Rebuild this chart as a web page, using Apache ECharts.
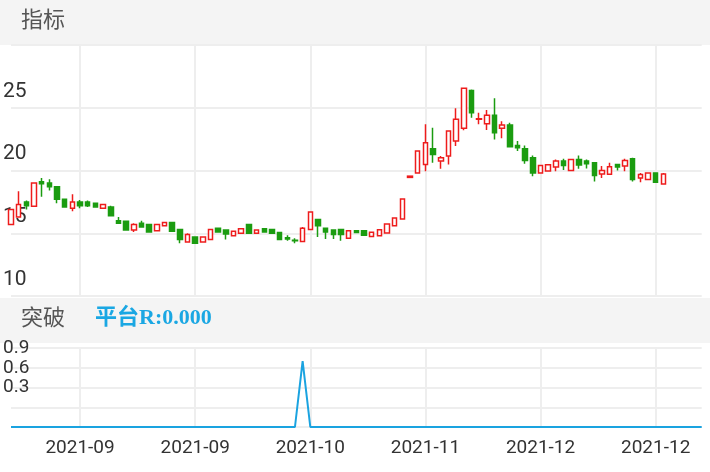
<!DOCTYPE html>
<html><head><meta charset="utf-8">
<script src="https://cdn.jsdelivr.net/npm/echarts@6/dist/echarts.min.js"></script>
<style>html,body{margin:0;padding:0;background:#fff}#c{width:710px;height:472px}</style>
</head><body><div id="c"></div>
<script>
const dates = ['2021-08-19','2021-08-20','2021-08-23','2021-08-24','2021-08-25','2021-08-26','2021-08-27','2021-08-30','2021-08-31',
'2021-09-01','2021-09-02','2021-09-03','2021-09-06','2021-09-07','2021-09-08','2021-09-09','2021-09-10','2021-09-13','2021-09-14','2021-09-15','2021-09-16','2021-09-17','2021-09-22','2021-09-23','2021-09-24',
'2021-09-27','2021-09-28','2021-09-29','2021-09-30','2021-10-08','2021-10-11','2021-10-12','2021-10-13','2021-10-14','2021-10-15','2021-10-18','2021-10-19','2021-10-20','2021-10-21','2021-10-22',
'2021-10-25','2021-10-26','2021-10-27','2021-10-28','2021-10-29','2021-11-01','2021-11-02','2021-11-03','2021-11-04','2021-11-05','2021-11-08','2021-11-09','2021-11-10','2021-11-11','2021-11-12',
'2021-11-15','2021-11-16','2021-11-17','2021-11-18','2021-11-19','2021-11-22','2021-11-23','2021-11-24','2021-11-25','2021-11-26','2021-11-29','2021-11-30','2021-12-01','2021-12-02','2021-12-03',
'2021-12-06','2021-12-07','2021-12-08','2021-12-09','2021-12-10','2021-12-13','2021-12-14','2021-12-15','2021-12-16','2021-12-17','2021-12-20','2021-12-21','2021-12-22','2021-12-23','2021-12-24',
'2021-12-27','2021-12-28','2021-12-29','2021-12-30','2021-12-31','2022-01-04'];
// [open, close, low, high]
const kline = [
[15.7,16.9,15.7,16.9],[16.3,17.3,16.3,18.35],[17.5,17.2,16.9,17.6],[17.15,19.0,17.15,19.0],[19.1,18.95,17.9,19.4],
[19.0,18.7,18.4,19.3],[18.7,17.7,17.4,18.7],[17.7,17.1,17.1,17.75],[17.0,17.5,16.75,18.1],[17.5,17.2,17.0,17.65],
[17.5,17.2,17.1,17.6],[17.4,17.1,17.1,17.4],[17.0,17.3,17.0,17.3],[17.1,16.4,16.4,17.2],[16.0,15.8,15.75,16.3],
[15.95,15.25,15.25,16.0],[15.25,15.7,15.1,15.8],[15.8,15.5,15.5,16.0],[15.7,15.1,15.1,15.75],[15.2,15.7,15.2,15.7],
[15.6,15.85,15.6,15.85],[15.85,15.15,15.15,15.85],[15.3,14.5,14.2,15.35],[14.3,14.9,14.3,15.0],[14.7,14.2,14.2,14.7],
[14.3,14.7,14.3,14.7],[14.5,15.3,14.5,15.33],[15.4,15.1,15.1,15.4],[15.25,14.95,14.5,15.25],[14.8,15.15,14.8,15.15],
[15.0,15.35,15.0,15.35],[15.7,15.0,15.0,15.7],[15.0,15.25,15.0,15.25],[15.35,15.1,15.1,15.35],[15.3,15.0,14.95,15.3],
[15.05,14.5,14.5,15.05],[14.65,14.55,14.4,14.85],[14.45,14.4,14.2,14.6],[14.35,15.4,14.35,15.5],[15.3,16.7,15.25,16.7],
[16.1,15.6,14.7,16.1],[15.4,15.1,14.55,15.4],[15.25,14.9,14.55,15.25],[15.3,14.9,14.4,15.3],[14.6,15.2,14.6,15.2],
[15.2,15.05,15.05,15.2],[15.2,14.85,14.85,15.2],[14.75,15.07,14.75,15.07],[14.8,15.28,14.8,15.28],[15.01,15.73,15.01,15.73],
[15.6,16.21,15.6,16.21],[16.13,17.73,16.13,17.73],[19.45,19.55,19.45,19.55],[19.81,21.55,19.81,21.55],[20.48,22.21,19.95,23.68],
[21.73,21.28,20.61,23.41],[20.75,21.01,20.13,21.15],[21.15,23.15,20.48,23.15],[22.35,24.08,21.95,24.96],[23.36,26.56,23.2,26.56],
[26.37,24.61,24.21,26.45],[24.08,24.13,23.68,24.61],[23.73,24.4,23.23,24.83],[24.4,23.01,22.48,25.76],[23.36,23.63,22.56,23.92],
[23.63,21.89,21.89,23.81],[22.0,21.81,21.55,22.35],[21.73,20.8,20.53,22.0],[21.01,19.81,19.55,21.2],[19.81,20.4,19.81,20.4],
[19.97,20.45,19.97,20.45],[20.27,20.75,19.95,20.88],[20.75,20.4,20.03,20.93],[20.0,20.88,20.0,20.88],[20.88,20.43,20.13,21.2],
[20.75,20.53,20.16,20.88],[20.61,19.6,19.12,20.61],[19.73,20.0,19.41,20.35],[19.71,20.29,19.65,20.61],[20.48,20.27,20.0,20.53],
[20.35,20.8,19.95,20.93],[20.93,19.28,19.12,21.01],[19.41,19.68,19.07,19.81],[19.28,19.81,19.28,19.81],[19.81,19.07,19.07,19.81],
[18.93,19.73,18.93,19.81]];
const breakout = [0,0,0,0,0,0,0,0,0,0,0,0,0,0,0,0,0,0,0,0,0,0,0,0,0,0,0,0,0,0,0,0,0,0,0,0,0,0,1,0,
0,0,0,0,0,0,0,0,0,0,0,0,0,0,0,0,0,0,0,0,0,0,0,0,0,0,0,0,0,0,0,0,0,0,0,0,0,0,0,0,0,0,0,0,0,0,0,0,0,0,0];
const topTicks = [10,15,20,25,30];
const lowLabels = {'1.2':'0.9','0.9':'0.6','0.6':'0.3'};

const lblIdx = (i)=> i%15===9;
const chart = echarts.init(document.getElementById('c'));
const gridL = 0.9, gridR = 8.3;
chart.setOption({
  animation:false,
  grid:[{left:gridL,right:gridR,top:45,height:251},{left:gridL,right:gridR,top:348,height:79}],
  xAxis:[
    {type:'category',gridIndex:0,data:dates,boundaryGap:false,axisLine:{show:false},axisTick:{show:false},axisLabel:{show:false},
     splitLine:{show:true,interval:lblIdx,lineStyle:{color:'#eeeeee',width:2}}},
    {type:'category',gridIndex:1,data:dates,boundaryGap:false,axisLine:{show:false},axisTick:{show:false},
     axisLabel:{interval:lblIdx,formatter:v=>v.slice(0,7),color:'#333',fontSize:19,margin:12,fontFamily:'Roboto, sans-serif'},
     splitLine:{show:true,interval:lblIdx,lineStyle:{color:'#eeeeee',width:2}}}
  ],
  yAxis:[
    {type:'value',gridIndex:0,min:topTicks[0],max:topTicks[topTicks.length-1],interval:5,axisLine:{show:false},axisTick:{show:false},
     axisLabel:{inside:true,margin:-8,showMaxLabel:false,verticalAlign:'bottom',padding:[0,0,6,0],color:'#333',fontSize:21,fontFamily:'Roboto, sans-serif'},
     splitLine:{lineStyle:{color:'#eeeeee',width:2}}},
    {type:'value',gridIndex:1,min:0,max:1.2,interval:0.3,axisLine:{show:false},axisTick:{show:false},
     axisLabel:{inside:true,margin:-8,verticalAlign:'middle',padding:[16,0,0,0],color:'#333',fontSize:19,fontFamily:'Roboto, sans-serif',
       formatter:v=>lowLabels[(Math.round(v*10)/10).toString()]||''},
     splitLine:{lineStyle:{color:'#eeeeee',width:2}}}
  ],
  series:[
    {type:'candlestick',xAxisIndex:0,yAxisIndex:0,data:kline,barWidth:5,
     itemStyle:{color:'#ffffff',color0:'#1b9c10',borderColor:'#ee1c1c',borderColor0:'#1b9c10',borderWidth:1.5}},
    {type:'line',xAxisIndex:1,yAxisIndex:1,data:breakout,symbol:'none',lineStyle:{color:'#1aa3e0',width:2},itemStyle:{color:'#1aa3e0'}}
  ],
  graphic:[
    {type:'rect',shape:{x:0,y:0,width:710,height:45},style:{fill:'#f4f4f4'},z:-1},
    {type:'text',left:21,top:8,style:{text:'指标',fill:'#555',font:'22px "Noto Sans CJK SC", sans-serif'}},
    {type:'rect',shape:{x:0,y:298,width:710,height:45},style:{fill:'#f4f4f4'},z:-1},
    {type:'text',left:21,top:306,style:{text:'突破',fill:'#555',font:'22px "Noto Sans CJK SC", sans-serif'}},
    {type:'text',left:95,top:307,style:{text:'平台R:0.000',fill:'#1aa7e3',font:'bold 22px "Liberation Serif", "Noto Sans CJK SC", serif'}}
  ]
});
</script></body></html>
